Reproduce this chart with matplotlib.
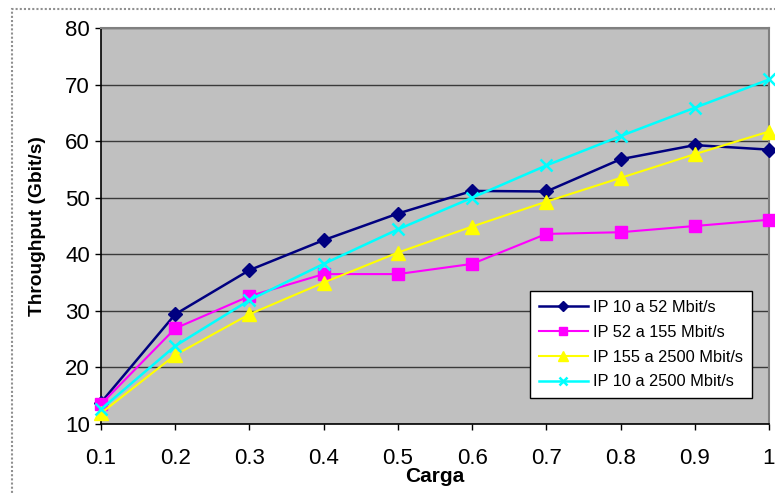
import matplotlib.pyplot as plt
from matplotlib.patches import Rectangle

plt.rcParams['font.family'] = ['Liberation Sans', 'DejaVu Sans']

carga = [0.1, 0.2, 0.3, 0.4, 0.5, 0.6, 0.7, 0.8, 0.9, 1.0]
x_labels = ['0.1', '0.2', '0.3', '0.4', '0.5', '0.6', '0.7', '0.8', '0.9', '1']

ip_10_52 = [13.8, 29.4, 37.2, 42.5, 47.2, 51.2, 51.1, 56.8, 59.3, 58.5]
ip_52_155 = [13.5, 26.9, 32.6, 36.5, 36.5, 38.3, 43.6, 43.9, 45.0, 46.1]
ip_155_2500 = [11.9, 22.2, 29.4, 35.0, 40.3, 44.9, 49.3, 53.5, 57.7, 61.7]
ip_10_2500 = [12.6, 23.8, 31.9, 38.3, 44.4, 50.0, 55.7, 60.9, 65.9, 70.9]

names = ['IP 10 a 52 Mbit/s', 'IP 52 a 155 Mbit/s',
         'IP 155 a 2500 Mbit/s', 'IP 10 a 2500 Mbit/s']

fig = plt.figure(figsize=(7.75, 4.95), dpi=100)
fig.patches.append(Rectangle((0.016, -0.01), 0.99, 0.992, transform=fig.transFigure,
                             fill=False, edgecolor='#909090', linestyle=(0, (1, 1)),
                             linewidth=1.5))

ax = fig.add_axes([101 / 775, 71 / 495, 668 / 775, 396 / 495])
ax.set_facecolor('#C0C0C0')

ax.plot(carga, ip_10_52, color='#000080', lw=1.8, marker='D', ms=7.5,
        label=names[0], clip_on=False, zorder=3)
ax.plot(carga, ip_52_155, color='#FF00FF', lw=1.5, marker='s', ms=8.5,
        label=names[1], clip_on=False, zorder=3)
ax.plot(carga, ip_155_2500, color='#FFFF00', lw=1.5, marker='^', ms=10,
        label=names[2], clip_on=False, zorder=3)
ax.plot(carga, ip_10_2500, color='#00FFFF', lw=1.8, marker='x', ms=9, mew=1.8,
        label=names[3], clip_on=False, zorder=3)

ax.set_xlim(0.1, 1.0)
ax.set_ylim(10, 80)
ax.set_xticks(carga)
ax.set_xticklabels(x_labels)
ax.set_yticks(range(10, 81, 10))
ax.tick_params(labelsize=16, length=4, width=1, direction='out', color='black')
ax.tick_params(axis='x', pad=13)
ax.tick_params(axis='y', pad=4)
ax.grid(axis='y', color='#3a3a3a', lw=1)
ax.set_axisbelow(True)

for side in ['left', 'bottom']:
    ax.spines[side].set_color('black')
    ax.spines[side].set_linewidth(1.2)
for side in ['top', 'right']:
    ax.spines[side].set_color('#808080')
    ax.spines[side].set_linewidth(1.5)

ax.set_xlabel('Carga', fontsize=15, fontweight='bold', labelpad=-1)
ax.set_ylabel('Throughput (Gbit/s)', fontsize=13.8, fontweight='bold', labelpad=14)

leg = ax.legend(loc='upper left', bbox_to_anchor=(0.642, 0.336), borderaxespad=0,
                fancybox=False, framealpha=1, edgecolor='black', fontsize=11.8,
                handlelength=3.0, labelspacing=0.6, borderpad=0.55,
                handletextpad=0.3, markerscale=0.7)
leg.get_frame().set_linewidth(1)

fig.savefig('out.png', dpi=100)
